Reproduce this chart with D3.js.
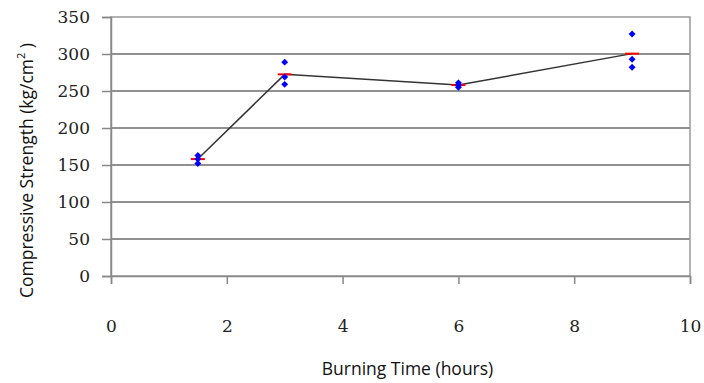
<!DOCTYPE html>
<html>
<head>
<meta charset="utf-8">
<script src="https://cdn.jsdelivr.net/npm/d3@7"></script>
<style>
  body { margin: 0; background: #fff; }
  .tick text { font-family: "DejaVu Serif", serif; font-size: 17px; fill: #222; }
</style>
</head>
<body>
<div id="graph"></div>
<script>
// burning time (hours) and the individual samples
var times = [1.5, 3, 6, 9];
var samples = [
    [163, 158, 152],
    [289, 269, 259],
    [261, 258, 255],
    [327, 293, 282]
];
var means = [158, 272.5, 258, 300.5];
var yTicks = [0, 50, 100, 150, 200, 250, 300, 350];
var xTicks = [0, 2, 4, 6, 8, 10];

var margin = {top: 17, right: 14, bottom: 107, left: 111},
    w = 704 - margin.left - margin.right,
    h = 383 - margin.top - margin.bottom;

var x = d3.scaleLinear().domain([0, 10]).range([0, w]);
var y = d3.scaleLinear().domain([0, 350]).range([h, 0]);

var svg = d3.select("#graph").append("svg")
    .attr("width", 704)
    .attr("height", 383)
    .append("g")
    .attr("transform", "translate(" + margin.left + "," + margin.top + ")");

// grid lines
svg.selectAll("line.grid")
    .data(yTicks.filter(function(d) { return d > 0 && d < 350; }))
    .enter().append("line")
    .attr("class", "grid")
    .attr("x1", 0).attr("x2", w)
    .attr("y1", function(d) { return y(d); })
    .attr("y2", function(d) { return y(d); })
    .style("stroke", "#222")
    .style("stroke-width", "1.2px");

// frame
svg.append("rect")
    .attr("x", 0).attr("y", 0)
    .attr("width", w).attr("height", h)
    .style("fill", "none")
    .style("stroke", "#999")
    .style("stroke-width", "1.5px");

// Y axis
svg.append("g")
    .call(d3.axisLeft(y).tickValues(yTicks).tickSize(9).tickPadding(12))
    .call(function(g) {
        g.select(".domain").style("stroke", "#888").style("stroke-width", "1.5px");
        g.selectAll(".tick line").style("stroke", "#888").style("stroke-width", "1.5px");
    });

// X axis
svg.append("g")
    .attr("transform", "translate(0," + h + ")")
    .call(d3.axisBottom(x).tickValues(xTicks).tickSize(8).tickPadding(36))
    .call(function(g) {
        g.select(".domain").style("stroke", "#888").style("stroke-width", "1.5px");
        g.selectAll(".tick line").style("stroke", "#888").style("stroke-width", "1.5px");
    });

// mean line
var line = d3.line()
    .x(function(d, i) { return x(times[i]); })
    .y(function(d) { return y(d); });

svg.append("path")
    .datum(means)
    .attr("d", line)
    .style("fill", "none")
    .style("stroke", "#333")
    .style("stroke-width", "1.5px");

// red mean markers
svg.selectAll(".mean")
    .data(means)
    .enter().append("line")
    .attr("class", "mean")
    .attr("x1", function(d, i) { return x(times[i]) - 7; })
    .attr("x2", function(d, i) { return x(times[i]) + 7; })
    .attr("y1", function(d) { return y(d); })
    .attr("y2", function(d) { return y(d); })
    .style("stroke", "#ff0000")
    .style("stroke-width", "2px");

// blue sample diamonds (square turned 45deg)
var pts = [];
samples.forEach(function(s, i) {
    s.forEach(function(v) { pts.push({t: times[i], v: v}); });
});

svg.selectAll(".pt")
    .data(pts)
    .enter().append("path")
    .attr("class", "pt")
    .attr("d", d3.symbol().type(d3.symbolSquare).size(24))
    .attr("transform", function(d) { return "translate(" + x(d.t) + "," + y(d.v) + ") rotate(45)"; })
    .style("fill", "#0000ff");

// axis titles
svg.append("text")
    .attr("x", w / 2 + 7)
    .attr("y", h + 99)
    .style("text-anchor", "middle")
    .style("font-family", "Open Sans, sans-serif")
    .style("font-size", "17.5px")
    .style("fill", "#111")
    .text("Burning Time (hours)");

var yt = svg.append("text")
    .attr("transform", "translate(" + (-78) + "," + (h / 2 + 24) + ") rotate(-90)")
    .style("text-anchor", "middle")
    .style("font-family", "Open Sans, sans-serif")
    .style("font-size", "17.5px")
    .style("fill", "#111");
yt.append("tspan").text("Compressive Strength  (kg/cm");
yt.append("tspan").attr("dy", "-8").style("font-size", "11px").text("2");
yt.append("tspan").attr("dy", "8").text(" )");
</script>
</body>
</html>
